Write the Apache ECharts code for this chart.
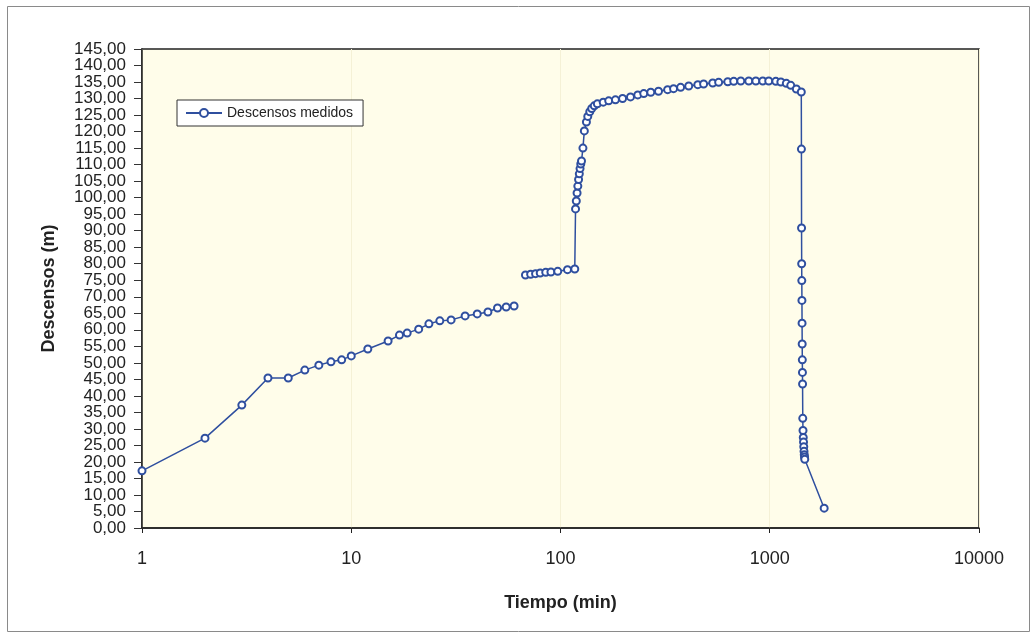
<!DOCTYPE html>
<html>
<head>
<meta charset="utf-8">
<script src="https://cdn.jsdelivr.net/npm/echarts@6/dist/echarts.min.js"></script>
<style>
html,body{margin:0;padding:0;background:#fff;}
#chart{width:1036px;height:638px;}
</style>
</head>
<body>
<div id="chart"></div>
<script>
// ---- Data (tiempo en min, descenso en m) ----
const tiempoTramo1 = [1, 2, 3, 4, 5, 6, 7, 8, 9, 10, 12, 15, 17, 18.5, 21, 23.5, 26.5, 30, 35, 40, 45, 50, 55, 60];
const descensoTramo1 = [17.3, 27.2, 37.2, 45.4, 45.4, 47.8, 49.3, 50.3, 50.9, 52.1, 54.2, 56.6, 58.4, 59.0, 60.2, 61.8, 62.7, 63.0, 64.2, 64.8, 65.4, 66.6, 66.9, 67.2];

const tiempoTramo2 = [68, 72, 76, 80, 85, 90, 97, 108, 117,
  118, 119, 120, 121, 122, 123, 124, 125, 126, 128, 130, 133, 135, 138, 141, 145, 150, 160, 170, 183, 198, 216, 234, 250, 270, 294, 325, 347, 375, 410, 453, 483, 534, 570, 630, 673, 727, 794, 858, 926, 989, 1069, 1130, 1200, 1260, 1340, 1415];
const descensoTramo2 = [76.6, 76.8, 77.0, 77.2, 77.4, 77.5, 77.7, 78.2, 78.4,
  96.6, 99.0, 101.4, 103.5, 105.5, 107.2, 108.8, 110.2, 111.1, 115.0, 120.2, 122.9, 124.6, 126.0, 127.0, 127.8, 128.4, 128.9, 129.3, 129.6, 130.0, 130.5, 131.1, 131.5, 131.9, 132.2, 132.7, 133.0, 133.4, 133.8, 134.2, 134.4, 134.7, 134.9, 135.1, 135.2, 135.3, 135.3, 135.3, 135.3, 135.3, 135.2, 135.0, 134.6, 134.0, 132.9, 132.0];

const tiempoRecuperacion = [1417, 1419, 1421, 1423, 1425, 1427, 1429, 1431, 1433, 1435, 1438, 1442, 1446, 1450, 1454, 1458, 1462, 1466, 1470, 1820];
const descensoRecuperacion = [114.7, 90.8, 80.0, 74.9, 68.9, 62.0, 55.7, 50.9, 47.1, 43.6, 33.2, 29.5, 27.4, 26.0, 24.6, 23.2, 22.2, 21.5, 20.8, 6.0];

const etiquetasX = [1, 10, 100, 1000, 10000];
const etiquetasY = [0, 5, 10, 15, 20, 25, 30, 35, 40, 45, 50, 55, 60, 65, 70, 75, 80, 85, 90, 95, 100, 105, 110, 115, 120, 125, 130, 135, 140, 145];
const nombreSerie = 'Descensos medidos';

// ---- Build series data ----
const datos = [];
tiempoTramo1.forEach((t, i) => datos.push([t, descensoTramo1[i]]));
datos.push([64, '-']); // interrupción de la curva
tiempoTramo2.forEach((t, i) => datos.push([t, descensoTramo2[i]]));
tiempoRecuperacion.forEach((t, i) => datos.push([t, descensoRecuperacion[i]]));

// y labels split in two sets so the library does not drop overlapping ones
const etiquetasYPares = etiquetasY.filter((v, i) => i % 2 === 0);
const etiquetasYImpares = etiquetasY.filter((v, i) => i % 2 === 1);

const FONT = "'Liberation Sans', Arial, sans-serif";
const azul = '#2f4f9f';
const fmtY = v => Number(v).toFixed(2).replace('.', ',');

const baseYLabel = {
  margin: 16,
  fontFamily: FONT, fontSize: 17, color: '#222',
  showMinLabel: true, showMaxLabel: true, hideOverlap: false,
  formatter: fmtY
};

const chart = echarts.init(document.getElementById('chart'));
chart.setOption({
  backgroundColor: '#ffffff',
  animation: false,
  graphic: [{
    type: 'rect',
    shape: { x: 7.5, y: 6.5, width: 1022, height: 625 },
    style: { fill: 'none', stroke: '#8a8a8a', lineWidth: 1 },
    z: -10
  }],
  grid: {
    left: 142, right: 57, top: 49, bottom: 110,
    show: true,
    backgroundColor: '#fffdea',
    borderColor: '#222',
    borderWidth: 1.5
  },
  legend: {
    left: 177, top: 100,
    data: [nombreSerie],
    backgroundColor: '#ffffff',
    borderColor: '#333',
    borderWidth: 1,
    borderRadius: 0,
    padding: [6, 10, 6, 8],
    itemWidth: 36, itemHeight: 10,
    itemGap: 6,
    textStyle: { fontFamily: FONT, fontSize: 14, color: '#222' }
  },
  xAxis: {
    type: 'log',
    logBase: 10,
    min: 1, max: 10000,
    name: 'Tiempo (min)',
    nameLocation: 'middle',
    nameGap: 66,
    nameTextStyle: { fontFamily: FONT, fontSize: 18, fontWeight: 'bold', color: '#222' },
    axisLine: { show: true, lineStyle: { color: '#222', width: 1.5 } },
    axisTick: { show: true, inside: false, length: 5, lineStyle: { color: '#222' } },
    axisLabel: {
      margin: 22,
      fontFamily: FONT, fontSize: 18, color: '#222',
      showMinLabel: true, showMaxLabel: true,
      formatter: v => etiquetasX.includes(Math.round(v)) ? String(Math.round(v)) : ''
    },
    splitLine: { show: true, lineStyle: { color: '#f5f1d6', width: 1 } },
    minorTick: { show: false }
  },
  yAxis: [{
    type: 'value',
    position: 'left',
    min: 0, max: 145, interval: 5,
    name: 'Descensos (m)',
    nameLocation: 'middle',
    nameGap: 84,
    nameRotate: 90,
    nameTextStyle: { fontFamily: FONT, fontSize: 18, fontWeight: 'bold', color: '#222' },
    axisLine: { show: true, lineStyle: { color: '#222', width: 1.5 } },
    axisTick: { show: true, inside: false, length: 8, lineStyle: { color: '#333' }, customValues: etiquetasY },
    axisLabel: Object.assign({}, baseYLabel, { customValues: etiquetasYPares }),
    splitLine: { show: false }
  }, {
    type: 'value',
    position: 'left',
    offset: 0,
    min: 0, max: 145, interval: 5,
    axisLine: { show: false },
    axisTick: { show: false },
    axisLabel: Object.assign({}, baseYLabel, { customValues: etiquetasYImpares }),
    splitLine: { show: false }
  }],
  series: [{
    name: nombreSerie,
    type: 'line',
    yAxisIndex: 0,
    data: datos,
    connectNulls: false,
    symbol: 'emptyCircle',
    symbolSize: 7,
    showAllSymbol: true,
    lineStyle: { color: azul, width: 1.5 },
    itemStyle: { color: azul, borderColor: azul, borderWidth: 1.6 },
    emphasis: { disabled: true }
  }]
});
</script>
</body>
</html>
